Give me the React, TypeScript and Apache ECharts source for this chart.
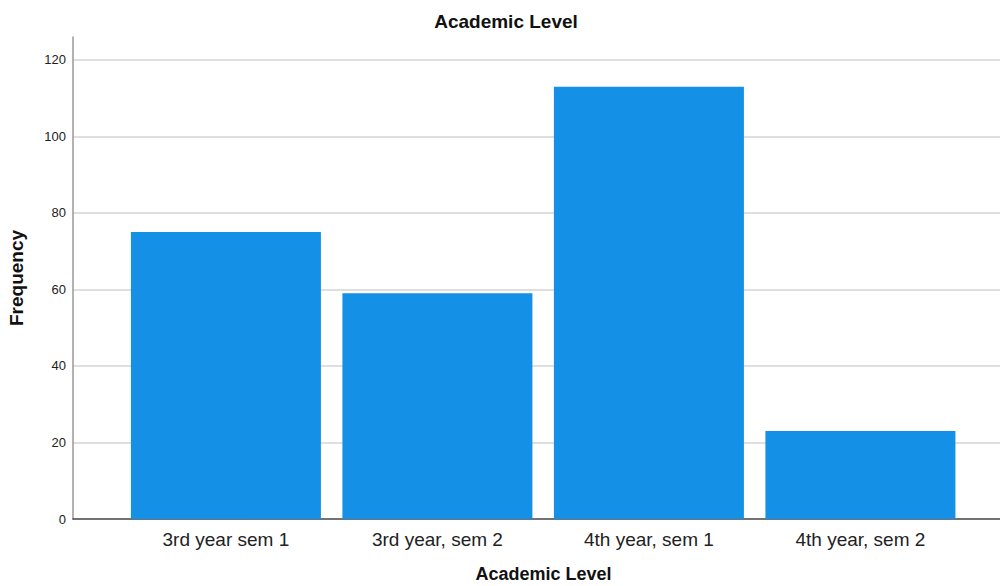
import React, { useEffect, useRef } from "react";
import * as echarts from "echarts";

const categories = ["3rd year sem 1", "3rd year, sem 2", "4th year, sem 1", "4th year, sem 2"];
const frequencies = [75, 59, 113, 23];
const yTicks = [0, 20, 40, 60, 80, 100, 120];
const positions = [0, 1, 2, 3];

export default function App() {
  const ref = useRef<HTMLDivElement>(null);
  useEffect(() => {
    if (!ref.current) return;
    const chart = echarts.init(ref.current, undefined, { renderer: "svg" });
    const font = "Liberation Sans, Arial, sans-serif";
    chart.setOption({
      animation: false,
      backgroundColor: "#ffffff",
      title: {
        text: "Academic Level",
        left: 501,
        textAlign: "center",
        top: 7,
        textStyle: { fontFamily: font, fontSize: 19, fontWeight: "bold", color: "#111" },
      },
      grid: { left: 73, right: 0, top: 37, bottom: 67, outerBoundsMode: "none", containLabel: false },
      xAxis: {
        type: "value",
        min: -0.723,
        max: 3.66,
        name: "Academic Level",
        nameLocation: "middle",
        nameGap: 46,
        nameTextStyle: { fontFamily: font, fontSize: 18, fontWeight: "bold", color: "#111", padding: [0, 0, 0, 14] },
        axisLine: { show: true, onZero: false, lineStyle: { color: "#444", width: 1.5 } },
        axisTick: { show: false },
        splitLine: { show: false },
        axisLabel: {
          customValues: positions,
          formatter: (v: number) => categories[Math.round(v)] ?? "",
          fontFamily: font,
          fontSize: 19,
          color: "#222",
          margin: 11,
        },
      },
      yAxis: {
        type: "value",
        min: 0,
        max: 126,
        name: "Frequency",
        nameLocation: "middle",
        nameGap: 47,
        nameRotate: 90,
        nameTextStyle: { fontFamily: font, fontSize: 19, fontWeight: "bold", color: "#111" },
        axisLine: { show: true, onZero: false, lineStyle: { color: "#999", width: 1.5 } },
        axisTick: { show: false, customValues: yTicks },
        splitLine: { show: false },
        axisLabel: {
          customValues: yTicks,
          fontFamily: font,
          fontSize: 13,
          color: "#222",
          margin: 7,
        },
      },
      series: [
        {
          type: "bar",
          data: positions.map((p, i) => [p, frequencies[i]]),
          barWidth: 190,
          itemStyle: { color: "#1490e6" },
          markLine: {
            silent: true,
            symbol: "none",
            label: { show: false },
            lineStyle: { color: "#d4d4d4", width: 1.5, type: "solid" },
            data: yTicks.filter((t) => t > 0).map((t) => ({ yAxis: t })),
            z: 0,
          },
          z: 2,
        },
      ],
    });
    return () => chart.dispose();
  }, []);
  return <div ref={ref} style={{ width: 1000, height: 586, position: "absolute", left: 0, top: 0 }} />;
}
